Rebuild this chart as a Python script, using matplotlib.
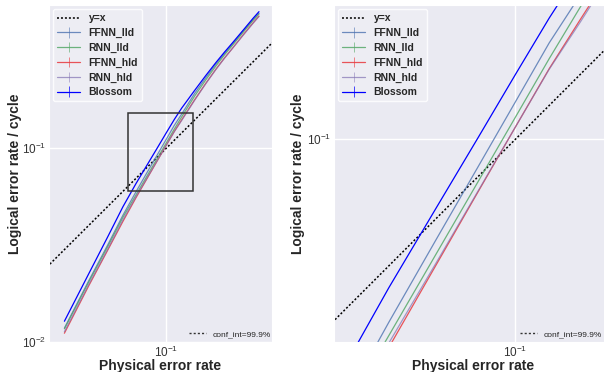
import matplotlib
matplotlib.use("Agg")
import matplotlib.pyplot as plt
import seaborn as sns
import numpy as np
from matplotlib.ticker import NullFormatter, LogLocator
from matplotlib.patches import Rectangle

sns.set_style("darkgrid")
plt.rcParams['font.family'] = ['Liberation Sans', 'DejaVu Sans']
plt.rcParams['mathtext.fontset'] = 'custom'
plt.rcParams['mathtext.rm'] = 'Liberation Sans'
plt.rcParams['mathtext.it'] = 'Liberation Sans:italic'
plt.rcParams['mathtext.bf'] = 'Liberation Sans:bold'

# ---- data ----
p_phys = [0.03, 0.04, 0.05, 0.06, 0.07, 0.08, 0.09, 0.10, 0.11, 0.12,
          0.14, 0.16, 0.18, 0.20, 0.22, 0.25, 0.28, 0.30]
ffnn_lld = [0.0118, 0.0207, 0.0316, 0.0452, 0.0597, 0.0754, 0.0925, 0.1111, 0.1312, 0.150,
            0.192, 0.232, 0.272, 0.310, 0.347, 0.405, 0.463, 0.498]
rnn_lld = [0.0117, 0.0204, 0.0310, 0.0441, 0.0575, 0.0724, 0.0887, 0.1064, 0.1255, 0.145,
           0.186, 0.226, 0.266, 0.305, 0.342, 0.400, 0.458, 0.494]
ffnn_hld = [0.0111, 0.0195, 0.0297, 0.0420, 0.0556, 0.0702, 0.0862, 0.1035, 0.1220, 0.140,
            0.178, 0.217, 0.256, 0.294, 0.330, 0.388, 0.445, 0.482]
rnn_hld = [0.0113, 0.0198, 0.0301, 0.0428, 0.0563, 0.0706, 0.0864, 0.1035, 0.1218, 0.139,
           0.177, 0.216, 0.255, 0.293, 0.330, 0.386, 0.443, 0.480]
blossom = [0.0128, 0.0225, 0.0348, 0.0500, 0.0658, 0.0824, 0.1004, 0.1200, 0.1407, 0.161,
           0.199, 0.238, 0.277, 0.315, 0.352, 0.410, 0.470, 0.508]
conf_halfwidth = 0.0

series = [("FFNN_lld", ffnn_lld, "#4C72B0", 0.8),
          ("RNN_lld", rnn_lld, "#55A868", 0.85),
          ("FFNN_hld", ffnn_hld, "#E8383D", 0.85),
          ("RNN_hld", rnn_hld, "#8172B2", 0.7),
          ("Blossom", blossom, "#0000FF", 1.0)]

diag = [0.02, 0.6]
zoom_box_x = (0.064, 0.138)
zoom_box_y = (0.060, 0.152)

W, H = 604, 372
fig = plt.figure(figsize=(W / 100, H / 100), dpi=100)

def px_axes(x0, x1, y0, y1):
    return fig.add_axes([x0 / W, 1 - y1 / H, (x1 - x0) / W, (y1 - y0) / H])

ax1 = px_axes(49, 272, 5, 342)
ax2 = px_axes(334, 612, 5, 342)

DOT = (0, (1.3, 1.3))

def draw(ax, xlim, ylim, conf_x, ylab_x):
    ax.plot(diag, diag, color='k', linestyle=DOT, lw=1.1, label='y=x')
    for name, vals, col, alpha in series:
        ax.errorbar(p_phys, vals, yerr=conf_halfwidth, color=col, lw=0.9,
                    alpha=alpha, elinewidth=0.5, label=name)
    ax.set_xscale('log')
    ax.set_yscale('log')
    ax.set_xlim(*xlim)
    ax.set_ylim(*ylim)
    ax.xaxis.set_major_locator(LogLocator(base=10, numticks=10))
    ax.yaxis.set_major_locator(LogLocator(base=10, numticks=10))
    ax.xaxis.set_minor_formatter(NullFormatter())
    ax.yaxis.set_minor_formatter(NullFormatter())
    ax.tick_params(axis='both', which='both', length=0, labelsize=8.5,
                   colors='#333333', pad=2)
    ax.grid(True, which='major', color='white', lw=1.0)
    ax.grid(False, which='minor')
    ax.set_xlabel('Physical error rate', fontsize=10, fontweight='bold',
                  color='#262626', labelpad=-1)
    ax.set_ylabel('Logical error rate / cycle', fontsize=10, fontweight='bold',
                  color='#262626')
    ax.yaxis.set_label_coords(ylab_x, 0.5)
    leg = ax.legend(loc='upper left', prop={'weight': 'bold', 'size': 7.5},
                    frameon=True, facecolor='#EEEEF4', edgecolor='white',
                    framealpha=0.85, borderaxespad=0.4, labelspacing=0.45,
                    handlelength=2.2)
    ax.add_artist(leg)
    h, = ax.plot([], [], color='#333333', linestyle=(0, (1.5, 1.5)), lw=1.0)
    ax.legend([h], ['conf_int=99.9%'], loc='lower right', frameon=False,
              fontsize=6, bbox_to_anchor=(conf_x, 0.0), borderaxespad=0.1,
              handlelength=2.0)

draw(ax1, (0.025, 0.35), (0.01, 0.55), 1.012, -0.121)
draw(ax2, (0.06, 0.1313), (0.0565, 0.146), 0.978, -0.104)

ax1.add_patch(Rectangle((zoom_box_x[0], zoom_box_y[0]),
                        zoom_box_x[1] - zoom_box_x[0], zoom_box_y[1] - zoom_box_y[0],
                        fill=False, edgecolor='#333333', lw=1.1, zorder=5))

fig.savefig('out.png', dpi=100)
